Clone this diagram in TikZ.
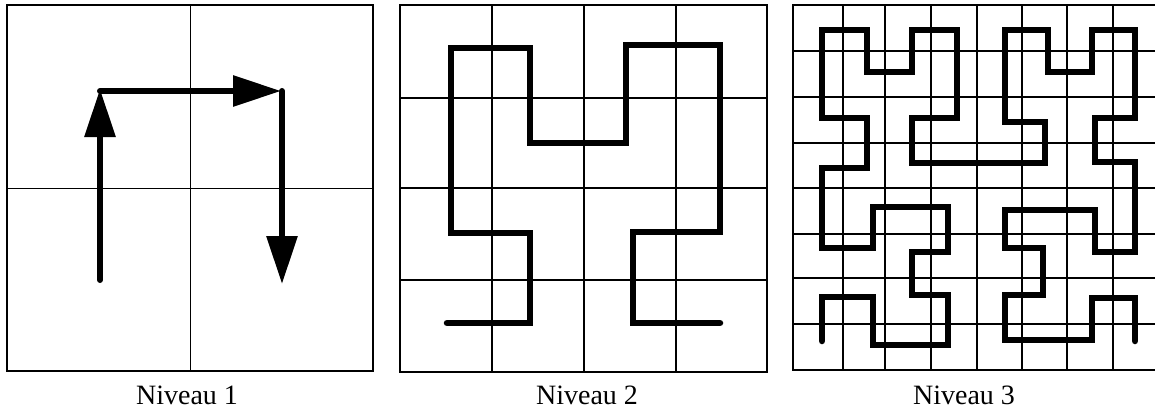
\documentclass[tikz,border=0pt]{standalone}
\usepackage{fontspec}
\setmainfont{Liberation Serif}
\usetikzlibrary{arrows.meta}
\tikzset{
  gridline/.style={line width=1.6pt, black},
  frame/.style={line width=2pt, black},
  curve/.style={line width=6.5pt, black, line cap=round, line join=miter},
  arr/.style={line width=6pt, black, line cap=round, -{Triangle[length=48pt,width=30pt]}},
  caption/.style={anchor=base, font=\fontsize{28}{30}\selectfont, inner sep=0pt}
}
\begin{document}
\begin{tikzpicture}[x=1pt,y=-1pt]
\useasboundingbox (0,0) rectangle (1155,409);
\fill[white] (0,0) rectangle (1155,409);
\clip (0,0) rectangle (1155,409);
% ---------- Panel 1 ----------
\draw[gridline] (190.5,5) -- (190.5,371);
\draw[gridline] (7,188.5) -- (373,188.5);
\draw[frame] (7,5) rectangle (373,371);
\coordinate (a0) at (100,280);
\coordinate (a1) at (100,89);
\coordinate (b0) at (100,91);
\coordinate (a2) at (281,91);
\coordinate (b1) at (282,91);
\coordinate (a3) at (282,284);
\draw[arr] (a0) -- (a1);
\draw[arr] (b0) -- (a2);
\draw[arr] (b1) -- (a3);
\node[caption] (n1) at (187,404) {Niveau 1};
% ---------- Panel 2 ----------
\foreach \x in {492,584,676} \draw[gridline] (\x,5) -- (\x,372);
\foreach \y in {98,188,280} \draw[gridline] (400,\y) -- (767,\y);
\draw[frame] (400,5) rectangle (767,372);
\draw[curve] (447,323) -- (530,323) -- (530,233) -- (451,233) -- (451,48)
  -- (530,48) -- (530,143) -- (626,143) -- (626,45) -- (720,45)
  -- (720,232) -- (633,232) -- (633,323) -- (720,323);
\node[caption] (n2) at (587,404) {Niveau 2};
% ---------- Panel 3 ----------
\foreach \x in {843,885,931,977,1022,1067,1113} \draw[gridline] (\x,5) -- (\x,370);
\foreach \y in {51,97,143,188,234,278,324} \draw[gridline] (793,\y) -- (1159,\y);
\draw[frame] (793,5) rectangle (1159,370);
\draw[curve] (822,341) -- (822,297) -- (873,297) -- (873,345) -- (948,345)
  -- (948,295) -- (912,295) -- (912,252) -- (948,252) -- (948,207)
  -- (873,207) -- (873,248) -- (822,248) -- (822,168) -- (867,168)
  -- (867,118) -- (822,118) -- (822,30) -- (867,30) -- (867,72)
  -- (912,72) -- (912,30) -- (957,30) -- (957,118) -- (912,118)
  -- (912,163) -- (1045,163) -- (1045,122) -- (1005,122) -- (1005,30)
  -- (1048,30) -- (1048,72) -- (1092,72) -- (1092,30) -- (1135,30)
  -- (1135,118) -- (1095,118) -- (1095,162) -- (1135,162) -- (1135,252)
  -- (1095,252) -- (1095,210) -- (1005,210) -- (1005,248) -- (1043,248)
  -- (1043,295) -- (1005,295) -- (1005,340) -- (1092,340) -- (1092,298)
  -- (1135,298) -- (1135,341);
\node[caption] (n3) at (964,404) {Niveau 3};
\end{tikzpicture}
\end{document}
